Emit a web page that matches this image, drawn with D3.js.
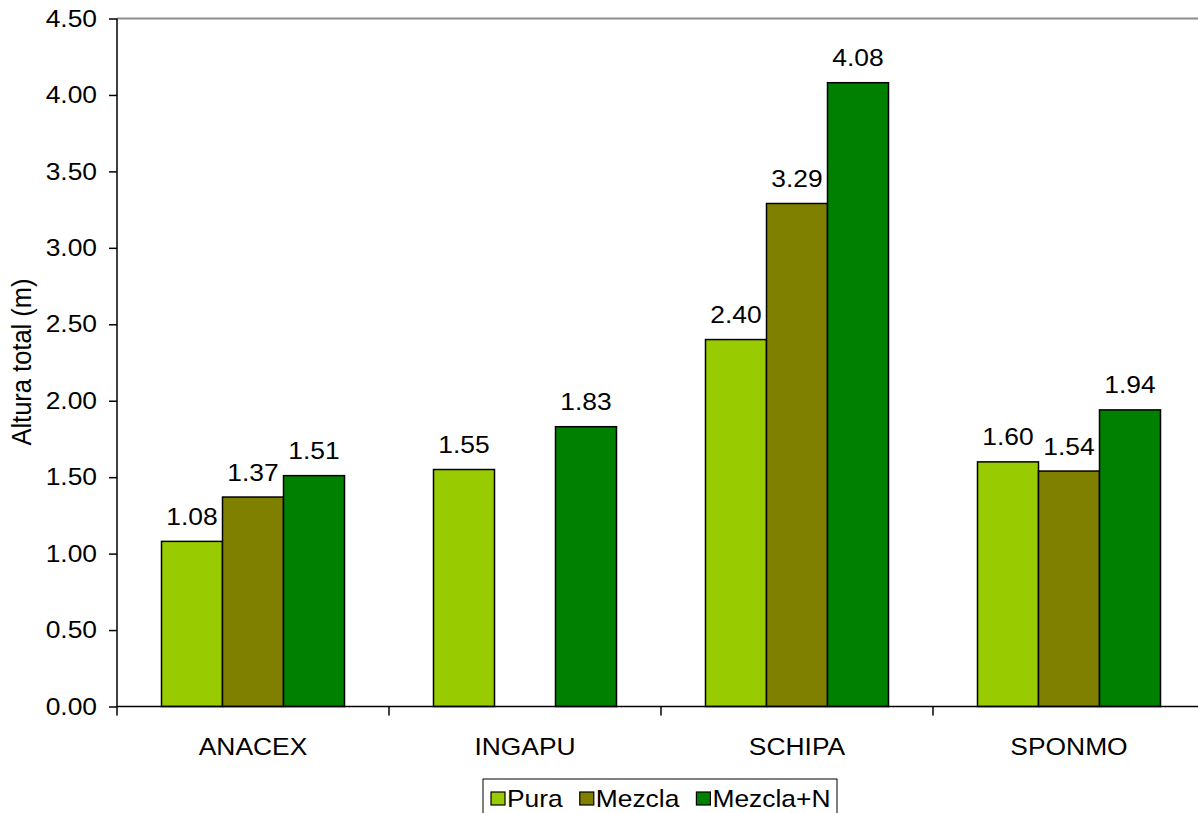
<!DOCTYPE html>
<html>
<head>
<meta charset="utf-8">
<script src="https://cdn.jsdelivr.net/npm/d3@7"></script>
<style>
  html, body { margin: 0; padding: 0; background: #fff; }
  svg { display: block; font-family: "Liberation Sans", Arial, sans-serif; }
</style>
</head>
<body>
<svg id="chart" width="1198" height="813"></svg>
<script>
// Species and treatments
const categories = ["ANACEX", "INGAPU", "SCHIPA", "SPONMO"];
const seriesNames = ["Pura", "Mezcla", "Mezcla+N"];
// Mean total height (m) per treatment; null = no data
const pura = [1.08, 1.55, 2.40, 1.60];
const mezcla = [1.37, null, 3.29, 1.54];
const mezclaN = [1.51, 1.83, 4.08, 1.94];
const yTicks = [0, 0.5, 1, 1.5, 2, 2.5, 3, 3.5, 4, 4.5];
const colors = ["#99CC00", "#808000", "#008000"];

const seriesValues = [pura, mezcla, mezclaN];
const FONT = "Liberation Sans, Arial, sans-serif";
const SX = 1.1;   // horizontal glyph stretch

// Widen glyphs horizontally while keeping each text's anchor point in place
function stretch(sel) {
  sel.each(function () {
    const t = d3.select(this);
    const x = +(t.attr("x") || 0);
    t.attr("x", x / SX).attr("transform", `scale(${SX},1)`);
  });
}

const svg = d3.select("#chart");
const plotLeft = 117, plotTop = 18.5, plotBottom = 706.5, band = 272;
const plotRight = plotLeft + band * categories.length;

const x0 = d3.scaleBand().domain(categories).range([plotLeft, plotRight]).paddingInner(0).paddingOuter(0);
const groupPad = 44.5;
const x1 = d3.scaleBand().domain(seriesNames).range([groupPad, band - groupPad]);
const y = d3.scaleLinear().domain([0, 4.5]).range([plotBottom, plotTop]);

// top frame line
svg.append("line")
  .attr("x1", plotLeft).attr("x2", 1198).attr("y1", plotTop).attr("y2", plotTop)
  .attr("stroke", "#8c8c8c").attr("stroke-width", 2);

// bars and value labels
const rows = categories.map((c, i) => seriesNames.map((s, j) => ({cat: c, s, v: seriesValues[j][i], color: colors[j]})));
const g = svg.append("g");
rows.forEach(row => {
  row.filter(d => d.v != null).forEach(d => {
    const bx = x0(d.cat) + x1(d.s);
    g.append("rect")
      .attr("x", bx).attr("y", y(d.v))
      .attr("width", x1.bandwidth()).attr("height", y(0) - y(d.v))
      .attr("fill", d.color).attr("stroke", "#000").attr("stroke-width", 1.5);
    g.append("text")
      .attr("class", "vlab")
      .attr("x", bx + x1.bandwidth() / 2).attr("y", y(d.v) - 16.5)
      .attr("text-anchor", "middle").attr("font-size", 24).attr("fill", "#000")
      .text(d3.format(".2f")(d.v));
  });
});
stretch(g.selectAll("text.vlab"));

// y axis
const yAxis = d3.axisLeft(y).tickValues(yTicks).tickFormat(d3.format(".2f")).tickSize(8).tickPadding(12);
const ya = svg.append("g").attr("transform", `translate(${plotLeft},0)`).call(yAxis);
ya.select(".domain").attr("stroke", "#000").attr("stroke-width", 1.5).attr("d", `M0,${plotTop}V${plotBottom}`);
ya.selectAll(".tick line").attr("stroke", "#000").attr("stroke-width", 1.5);
ya.selectAll(".tick text").attr("font-size", 24).attr("fill", "#000").attr("font-family", FONT);
stretch(ya.selectAll(".tick text"));

// x axis
const xAxis = d3.axisBottom(x0).tickSize(0).tickPadding(31);
const xa = svg.append("g").attr("transform", `translate(0,${plotBottom})`).call(xAxis);
xa.select(".domain").attr("stroke", "#000").attr("stroke-width", 1.5).attr("d", `M${plotLeft},0H1198`);
xa.selectAll(".tick text").attr("font-size", 24).attr("fill", "#000").attr("font-family", FONT);
stretch(xa.selectAll(".tick text"));
// category separators
const seps = d3.range(categories.length + 1).map(i => plotLeft + i * band);
xa.selectAll("line.sep").data(seps).enter().append("line")
  .attr("class", "sep").attr("x1", d => d).attr("x2", d => d).attr("y1", 0).attr("y2", 9)
  .attr("stroke", "#000").attr("stroke-width", 1.5);

// y label
svg.append("text")
  .attr("transform", `translate(31,362) rotate(-90) scale(1,${SX})`)
  .attr("text-anchor", "middle").attr("font-size", 25.5).attr("fill", "#000")
  .text("Altura total (m)");

// legend
const lg = svg.append("g").attr("transform", "translate(483,779)");
lg.append("rect").attr("x", 0).attr("y", 0).attr("width", 354).attr("height", 40)
  .attr("fill", "#fff").attr("stroke", "#000").attr("stroke-width", 1);
let cx = 8;
const sq = 14, itemGap = 17;
seriesNames.forEach((s, i) => {
  lg.append("rect").attr("x", cx).attr("y", 13).attr("width", sq).attr("height", 13)
    .attr("fill", colors[i]).attr("stroke", "#000").attr("stroke-width", 1.2);
  cx += sq + 2;
  const t = lg.append("text").attr("x", cx).attr("y", 28).attr("font-size", 24).attr("fill", "#000").text(s);
  const w = t.node().getComputedTextLength() * SX;
  stretch(t);
  cx += w + itemGap;
});
</script>
</body>
</html>
